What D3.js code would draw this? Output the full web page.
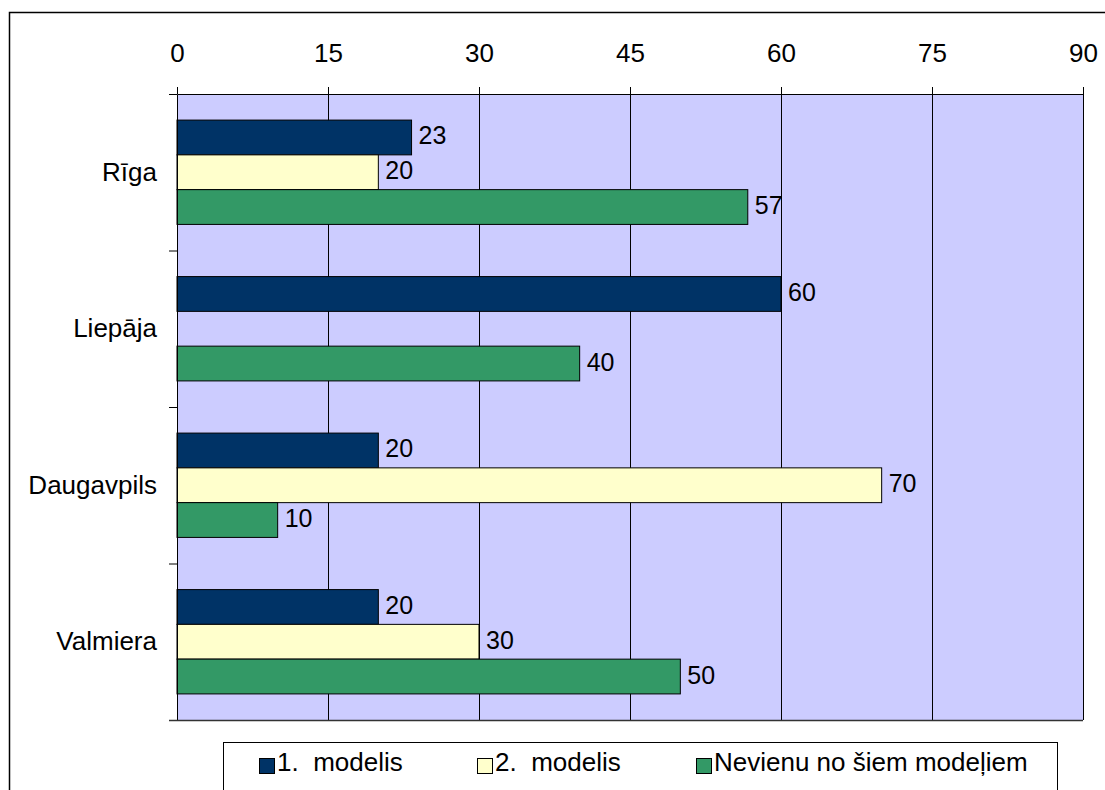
<!DOCTYPE html>
<html>
<head>
<meta charset="utf-8">
<script src="https://cdn.jsdelivr.net/npm/d3@7"></script>
<style>
  body { margin: 0; background: #fff; }
  svg { display: block; font-family: "Liberation Sans", Arial, sans-serif; }
  .lbl { white-space: pre; }
</style>
</head>
<body>
<div id="chart"></div>
<script>
const cities = ["Rīga", "Liepāja", "Daugavpils", "Valmiera"];
const seriesNames = ["1.  modelis", "2.  modelis", "Nevienu no šiem modeļiem"];
const model1 = [23.3, 60, 20, 20];
const model2 = [20, null, 70, 30];
const neither = [56.7, 40, 10, 50];
const xTicks = [0, 15, 30, 45, 60, 75, 90];
const colors = ["#003366", "#FFFFCC", "#339966"];

const W = 1105, H = 790;
const plot = { left: 177, top: 94, right: 1083, bottom: 720 };

const svg = d3.select("#chart")
    .append("svg")
    .attr("width", W)
    .attr("height", H);

// outer chart frame (runs off right and bottom)
svg.append("rect")
    .attr("x", 9.5).attr("y", 12.5)
    .attr("width", W + 10).attr("height", H)
    .attr("fill", "#fff")
    .attr("stroke", "#000")
    .attr("stroke-width", 1.5);

const x = d3.scaleLinear().domain([0, 90]).range([plot.left, plot.right]);
const y = d3.scaleBand().domain(cities).range([plot.top, plot.bottom]);
const yInner = d3.scaleBand().domain(d3.range(3)).range([0, y.bandwidth()]).paddingOuter(0.75);
const fmt = d3.format(".0f");

// plot background
svg.append("rect")
    .attr("x", plot.left).attr("y", plot.top)
    .attr("width", plot.right - plot.left).attr("height", plot.bottom - plot.top)
    .attr("fill", "#CCCCFF");

// gridlines
svg.append("g")
    .selectAll("line")
    .data(xTicks.slice(1))
    .join("line")
    .attr("x1", d => Math.round(x(d)) + 0.5).attr("x2", d => Math.round(x(d)) + 0.5)
    .attr("y1", plot.top).attr("y2", plot.bottom)
    .attr("stroke", "#000").attr("stroke-width", 1);

// bars
const rows = cities.map((c, i) => ({ city: c, values: [model1[i], model2[i], neither[i]] }));
const groups = svg.append("g")
    .selectAll("g")
    .data(rows)
    .join("g")
    .attr("transform", d => `translate(0,${y(d.city)})`);

const cells = groups.selectAll("g")
    .data(d => d.values.map((v, s) => ({ v, s })).filter(d => d.v != null))
    .join("g");

cells.append("rect")
    .attr("x", x(0))
    .attr("y", d => yInner(d.s))
    .attr("width", d => x(d.v) - x(0))
    .attr("height", yInner.bandwidth())
    .attr("fill", d => colors[d.s])
    .attr("stroke", "#000")
    .attr("stroke-width", 1);

cells.append("text")
    .attr("x", d => x(d.v) + 7)
    .attr("y", d => yInner(d.s) + yInner.bandwidth() / 2 + 7)
    .attr("font-size", 25)
    .attr("fill", "#000")
    .text(d => fmt(d.v));

// top value axis
const xAxis = svg.append("g")
    .attr("transform", `translate(0,${plot.top})`)
    .call(d3.axisTop(x).tickValues(xTicks).tickSize(7).tickPadding(25).tickSizeOuter(0));
xAxis.select(".domain").attr("stroke", "#000");
xAxis.selectAll("text").attr("font-size", 26).attr("fill", "#000").attr("font-family", null);

// right border of plot
svg.append("line")
    .attr("x1", plot.right + 0.5).attr("x2", plot.right + 0.5)
    .attr("y1", plot.top).attr("y2", plot.bottom)
    .attr("stroke", "#000");

// left category axis: boundary ticks + labels
const yEdges = d3.scaleLinear().domain([0, cities.length]).range([plot.top, plot.bottom]);
const yAxisTicks = svg.append("g")
    .attr("transform", `translate(${plot.left},0)`)
    .call(d3.axisLeft(yEdges).ticks(cities.length).tickSize(8).tickFormat("").tickSizeOuter(0));
yAxisTicks.select(".domain").attr("stroke", "#000");

const yAxisLabels = svg.append("g")
    .attr("transform", `translate(${plot.left},0)`)
    .call(d3.axisLeft(y).tickSize(0).tickPadding(20));
yAxisLabels.select(".domain").remove();
yAxisLabels.selectAll("text").attr("font-size", 26).attr("fill", "#000").attr("font-family", null);

// bottom edge of plot
svg.append("line")
    .attr("x1", plot.left - 8).attr("x2", plot.right)
    .attr("y1", plot.bottom + 0.5).attr("y2", plot.bottom + 0.5)
    .attr("stroke", "#333").attr("stroke-width", 1.5);

// legend
svg.append("rect")
    .attr("x", 223.5).attr("y", 742.5)
    .attr("width", 834).attr("height", 80)
    .attr("fill", "#fff")
    .attr("stroke", "#000");

const legendX = [259, 477, 696];
const legend = svg.append("g")
    .selectAll("g")
    .data(seriesNames)
    .join("g")
    .attr("transform", (d, i) => `translate(${legendX[i]},758)`);

legend.append("rect")
    .attr("x", 0.5).attr("y", 0.5)
    .attr("width", 15).attr("height", 15)
    .attr("fill", (d, i) => colors[i])
    .attr("stroke", "#000");

legend.append("text")
    .attr("class", "lbl")
    .attr("x", 18)
    .attr("y", 13)
    .attr("font-size", 26)
    .attr("fill", "#000")
    .text(d => d);
</script>
</body>
</html>
